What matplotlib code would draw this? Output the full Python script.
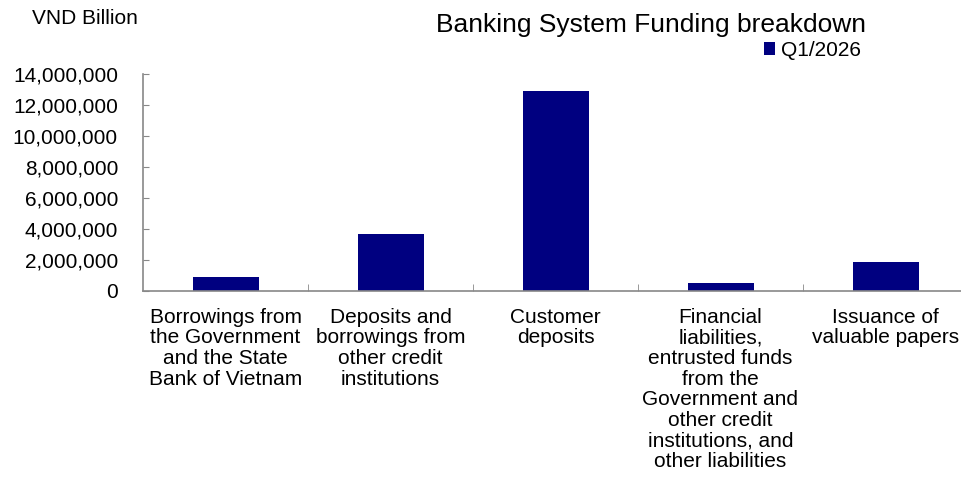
import matplotlib
matplotlib.use("Agg")
import matplotlib.pyplot as plt
from matplotlib.ticker import FuncFormatter, FixedLocator

plt.rcParams["font.family"] = ["Liberation Sans", "DejaVu Sans"]

# Data (VND Billion)
categories = [
    "Borrowings from\nthe Government\nand the State\nBank of Vietnam",
    "Deposits and\nborrowings from\nother credit\ninstitutions",
    "Customer\ndeposits",
    "Financial\nliabilities,\nentrusted funds\nfrom the\nGovernment and\nother credit\ninstitutions, and\nother liabilities",
    "Issuance of\nvaluable papers",
]
values = [900000, 3660000, 12900000, 495000, 1890000]
series_name = "Q1/2026"
y_ticks = [0, 2000000, 4000000, 6000000, 8000000, 10000000, 12000000, 14000000]

# Figure and axes
fig = plt.figure(figsize=(9.62, 5.0), dpi=100)
ax = fig.add_axes([143 / 962, 1 - 291 / 500, 825 / 962, 217 / 500])

x = list(range(len(categories)))
ax.bar(x, values, width=0.4, color="#000080", label=series_name)

ax.set_xlim(-0.5, len(categories) - 0.5)
ax.set_ylim(0, 14000000)
ax.set_yticks(y_ticks)
ax.yaxis.set_major_formatter(FuncFormatter(lambda v, p: "{:,.0f}".format(v)))

ax.set_xticks(x)
ax.set_xticklabels(categories, linespacing=1.11, va="top")
ax.xaxis.set_minor_locator(FixedLocator([i + 0.5 for i in x]))

# Axis styling
for side in ["top", "right"]:
    ax.spines[side].set_visible(False)
for side in ["left", "bottom"]:
    ax.spines[side].set_color("#888888")
    ax.spines[side].set_linewidth(1.2)

ax.tick_params(axis="y", direction="in", length=4, color="#888888",
               labelsize=15, pad=18)
ax.tick_params(axis="x", which="major", length=0, labelsize=15, pad=12)
ax.tick_params(axis="x", which="minor", direction="in", length=5,
               color="#888888")

# Texts
fig.text(651 / 962, 1 - 25 / 500, "Banking System Funding breakdown",
         ha="center", va="center", fontsize=19)
fig.text(32 / 962, 1 - 18 / 500, "VND Billion", ha="left", va="center",
         fontsize=15)

ax.legend(loc="upper left", bbox_to_anchor=(764 / 962, 1 - 41 / 500),
          bbox_transform=fig.transFigure, frameon=False, fontsize=15,
          handlelength=0.55, handleheight=0.55, handletextpad=0.25,
          borderpad=0, borderaxespad=0)

fig.savefig("out.png", dpi=100)
